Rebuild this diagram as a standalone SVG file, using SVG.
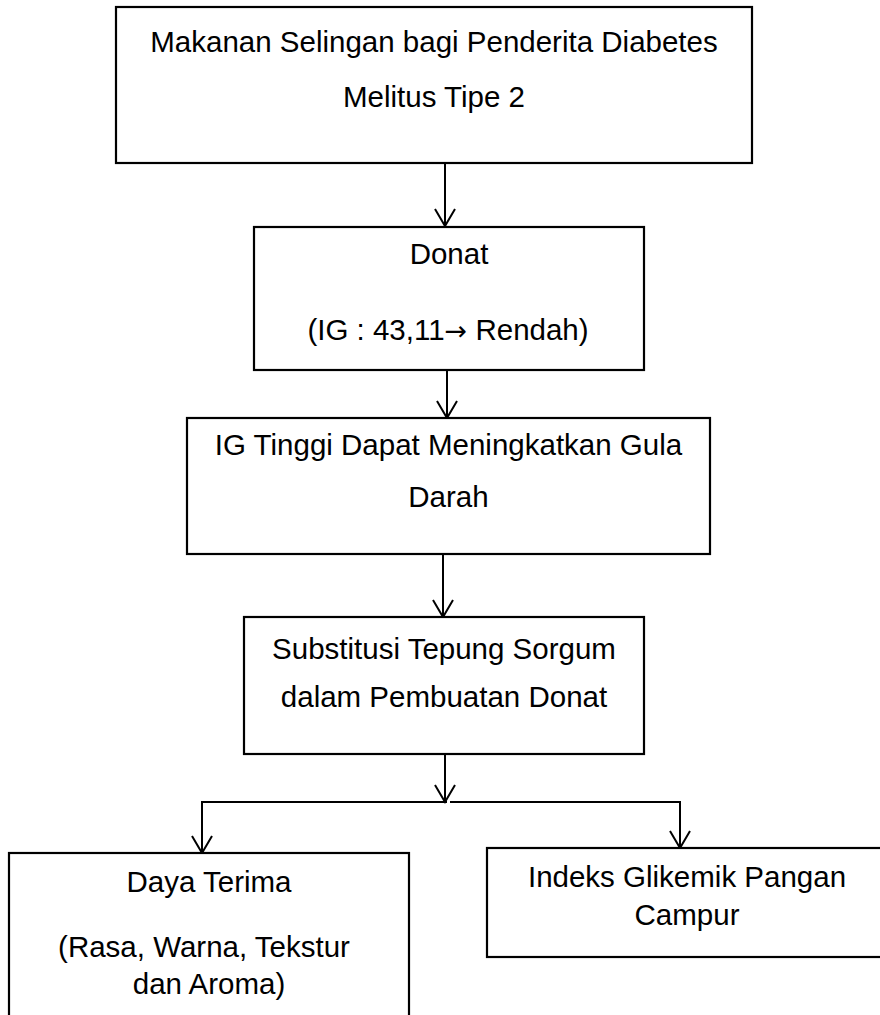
<svg xmlns="http://www.w3.org/2000/svg" width="880" height="1015" viewBox="0 0 880 1015">
<style>
.box{fill:#fff;stroke:#000;stroke-width:2.2}
.t{font-family:"Liberation Sans",Arial,sans-serif;font-size:29.5px;fill:#000;text-anchor:middle}
.sym{font-family:"DejaVu Sans",sans-serif;font-size:27px}
.ln{stroke:#000;stroke-width:2;fill:none}
</style>
<defs>
<marker id="arr" markerUnits="userSpaceOnUse" viewBox="-19 -12 21 24" refX="0" refY="0" markerWidth="21" markerHeight="24" orient="auto">
<path d="M-17,-10 L0,0 L-17,10" fill="none" stroke="#000" stroke-width="2"/>
</marker>
</defs>
<rect width="880" height="1015" fill="#fff"/>
<g id="connectors">
<line class="ln" x1="445" y1="163" x2="445" y2="226" marker-end="url(#arr)"/>
<line class="ln" x1="447" y1="370" x2="447" y2="418" marker-end="url(#arr)"/>
<line class="ln" x1="443" y1="554" x2="443" y2="617" marker-end="url(#arr)"/>
<line class="ln" x1="445" y1="754" x2="445" y2="802" marker-end="url(#arr)"/>
<polyline class="ln" points="202,853 202,802 447,802"/>
<polyline class="ln" points="450,802 680,802 680,848"/>
<line class="ln" x1="202" y1="802" x2="202" y2="853" marker-end="url(#arr)"/>
<line class="ln" x1="680" y1="802" x2="680" y2="848" marker-end="url(#arr)"/>
</g>
<g id="n1">
<rect class="box" x="116" y="7" width="636" height="156"/>
<text class="t" x="434" y="52">Makanan Selingan bagi Penderita Diabetes</text>
<text class="t" x="434" y="107">Melitus Tipe 2</text>
</g>
<g id="n2">
<rect class="box" x="254" y="227" width="390" height="143"/>
<text class="t" x="449" y="264">Donat</text>
<text class="t" x="448" y="340">(IG : 43,11<tspan class="sym">→</tspan> Rendah)</text>
</g>
<g id="n3">
<rect class="box" x="187" y="418" width="523" height="136"/>
<text class="t" x="448.5" y="455">IG Tinggi Dapat Meningkatkan Gula</text>
<text class="t" x="448.5" y="507">Darah</text>
</g>
<g id="n4">
<rect class="box" x="244" y="617" width="400" height="137"/>
<text class="t" x="444" y="659">Substitusi Tepung Sorgum</text>
<text class="t" x="444" y="707">dalam Pembuatan Donat</text>
</g>
<g id="n5">
<rect class="box" x="9" y="853" width="400" height="180"/>
<text class="t" x="209" y="892">Daya Terima</text>
<text class="t" x="204" y="957">(Rasa, Warna, Tekstur</text>
<text class="t" x="209" y="994">dan Aroma)</text>
</g>
<g id="n6">
<rect class="box" x="487" y="848" width="400" height="109"/>
<text class="t" x="687" y="887">Indeks Glikemik Pangan</text>
<text class="t" x="687" y="925">Campur</text>
</g>
</svg>
